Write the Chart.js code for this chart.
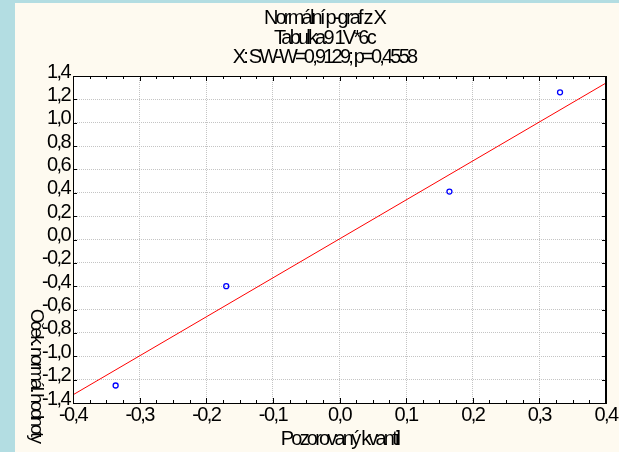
<!DOCTYPE html>
<html>
<head>
<meta charset="utf-8">
<script src="https://cdn.jsdelivr.net/npm/chart.js@4.4.1/dist/chart.umd.min.js"></script>
<style>
  html, body { margin: 0; padding: 0; width: 619px; height: 452px; overflow: hidden; background: #b3dde2; }
  #panel { position: absolute; left: 15px; top: 3px; width: 604px; height: 449px; background: #fefaf0; }
  canvas { display: block; }
</style>
</head>
<body>
<div id="panel"><canvas id="myChart" width="604" height="449"></canvas></div>
<script>
// Chart texts
var titleLines = ["Normální p-graf z X", "Tabulka9 1V*6c", "X: SW-W=0,9129; p=0,4558"];
var xTitle = "Pozorovaný kvantil";
var yTitle = "Oček. normál. hodnoty";

// Observed quantiles (x) and expected normal values (y)
var observed = [-0.336, -0.170, 0.165, 0.331];
var expected = [-1.25, -0.40, 0.41, 1.26];

// Reference line end points
var fitX = [-0.4, 0.4];
var fitY = [-1.33, 1.34];

// Tick labels (ascending order, as the scales build them)
var xTickLabels = ["-0,4", "-0,3", "-0,2", "-0,1", "0,0", "0,1", "0,2", "0,3", "0,4"];
var yTickLabels = ["-1,4", "-1,2", "-1,0", "-0,8", "-0,6", "-0,4", "-0,2", "0,0",
                   "0,2", "0,4", "0,6", "0,8", "1,0", "1,2", "1,4"];

var FONT = "'Liberation Sans', Arial, sans-serif";
var TITLE_SPACING = "-2.8px";
var TICK_SPACING = "-1.6px";

// Background, letter spacing, frame, inner ticks and rotated y title
var plotPlugin = {
  id: "plotExtras",
  beforeUpdate: function(chart) {
    chart.ctx.letterSpacing = TICK_SPACING;
  },
  beforeDraw: function(chart) {
    var ctx = chart.ctx, a = chart.chartArea;
    ctx.letterSpacing = TITLE_SPACING;
    ctx.save();
    ctx.fillStyle = "#ffffff";
    ctx.fillRect(a.left, a.top, a.right - a.left, a.bottom - a.top);
    ctx.restore();
  },
  afterDatasetsDraw: function(chart) {
    chart.ctx.letterSpacing = TICK_SPACING;
  },
  afterDraw: function(chart) {
    var ctx = chart.ctx, a = chart.chartArea;
    var xs = chart.scales.x, ys = chart.scales.y;
    ctx.save();
    ctx.fillStyle = "#000000";
    // frame
    ctx.fillRect(a.left, a.top, a.right - a.left, 1);
    ctx.fillRect(a.left, a.bottom, a.right - a.left + 1, 1);
    ctx.fillRect(a.left, a.top, 1, a.bottom - a.top);
    ctx.fillRect(a.right - 1, a.top, 2, a.bottom - a.top + 1);
    // inner ticks on x (quarter steps)
    for (var k = -16; k <= 16; k++) {
      var px = Math.round(xs.getPixelForValue(k * 0.025));
      var len = (k % 4 === 0) ? 5 : 3;
      ctx.fillRect(px, a.bottom - len, 1, len);
      ctx.fillRect(px, a.top, 1, len);
    }
    // inner ticks on y
    ys.ticks.forEach(function(t) {
      var py = Math.round(ys.getPixelForValue(t.value));
      ctx.fillRect(a.left, py, 4, 1);
      ctx.fillRect(a.right - 4, py, 4, 1);
    });
    // y title, rotated clockwise
    ctx.font = "19px " + FONT;
    ctx.letterSpacing = "-2.8px";
    ctx.textAlign = "center";
    ctx.textBaseline = "middle";
    ctx.translate(21, 372);
    ctx.rotate(Math.PI / 2);
    ctx.fillText(yTitle, 0, 0);
    ctx.restore();
  }
};

var ctx = document.getElementById("myChart").getContext("2d");
var myChart = new Chart(ctx, {
  type: "scatter",
  data: {
    datasets: [
      {
        label: "fit",
        data: fitX.map(function(x, i) { return { x: x, y: fitY[i] }; }),
        showLine: true,
        borderColor: "#ff0000",
        borderWidth: 1,
        pointRadius: 0,
        fill: false,
        order: 2
      },
      {
        label: "X",
        data: observed.map(function(x, i) { return { x: x, y: expected[i] }; }),
        pointStyle: "circle",
        pointRadius: 2.5,
        borderColor: "#0000ff",
        borderWidth: 1.3,
        backgroundColor: "rgba(0,0,0,0)",
        order: 1
      }
    ]
  },
  options: {
    responsive: false,
    animation: false,
    devicePixelRatio: 1,
    layout: { padding: { left: 27, right: 13, top: 0, bottom: 0 } },
    plugins: {
      legend: { display: false },
      tooltip: { enabled: false },
      title: {
        display: true,
        text: titleLines,
        color: "#000000",
        font: { family: FONT, size: 20, weight: "normal", lineHeight: 0.975 },
        padding: { top: 6, bottom: 8.5 }
      }
    },
    scales: {
      x: {
        type: "linear",
        min: -0.4,
        max: 0.4,
        afterFit: function(scale) { scale.height = 49; },
        ticks: {
          stepSize: 0.1, z: 1, padding: 0, maxRotation: 0, autoSkip: false,
          color: "#000000", font: { family: FONT, size: 20 },
          callback: function(v, i) { return xTickLabels[i]; }
        },
        grid: { color: "#c4c4c4", lineWidth: 1, drawTicks: false },
        border: { display: false, dash: [1, 1] },
        title: {
          display: true, text: xTitle, color: "#000000",
          font: { family: FONT, size: 20 }, padding: { top: 0, bottom: 1 }
        }
      },
      y: {
        type: "linear",
        min: -1.4,
        max: 1.4,
        afterFit: function(scale) { scale.width = 31; },
        ticks: {
          stepSize: 0.2, z: 1, padding: 3, labelOffset: -4, autoSkip: false,
          color: "#000000", font: { family: FONT, size: 20 },
          callback: function(v, i) { return yTickLabels[i]; }
        },
        grid: { color: "#c4c4c4", lineWidth: 1, drawTicks: false },
        border: { display: false, dash: [1, 1] },
        title: { display: false }
      }
    }
  },
  plugins: [plotPlugin]
});
</script>
</body>
</html>
